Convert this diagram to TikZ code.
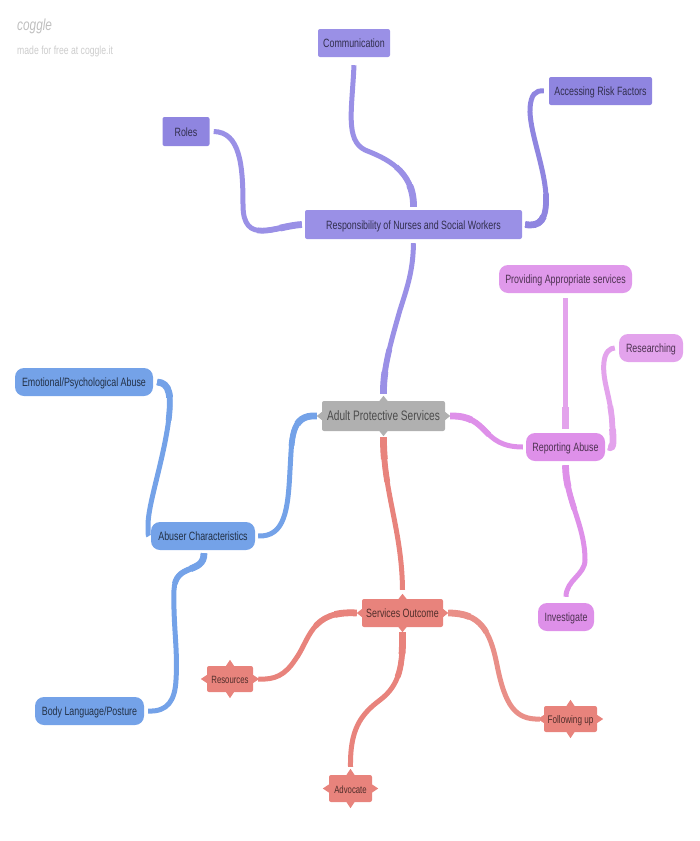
\documentclass[tikz,border=0pt]{standalone}
\usepackage{fontspec}
\setmainfont[FakeStretch=0.74]{Liberation Sans}
\definecolor{purpleA}{HTML}{9A90E6}
\definecolor{purpleB}{HTML}{8F85E0}
\definecolor{pinkA}{HTML}{DE90E9}
\definecolor{pinkB}{HTML}{E3A3EC}
\definecolor{blueA}{HTML}{74A2E8}
\definecolor{redA}{HTML}{E8837C}
\definecolor{redB}{HTML}{E98F88}
\definecolor{grayA}{HTML}{B0B0B0}
\tikzset{
    topic/.style={minimum height=28pt, inner sep=0pt, rounded corners=2pt, text height=11.6pt, text depth=2.6pt, font=\fontsize{12}{14}\selectfont},
    pill/.style={topic, rounded corners=9pt},
    purplenode/.style={topic, fill=#1, text=purpleB!35!black},
    pinknode/.style={pill, fill=pinkA, text=pinkA!35!black},
    bluenode/.style={pill, fill=blueA, text=blueA!30!black},
    rednode/.style={topic, fill=redA, text=redA!35!black},
    branch/.style={draw=#1, line width=5pt,
        preaction={draw=#1, line width=5.8pt, dash pattern=on 45pt off 3000pt},
        preaction={draw=#1, line width=6.8pt, dash pattern=on 22pt off 3000pt}},
}
\begin{document}
\begin{tikzpicture}[x=1pt, y=-1pt, line cap=butt]
    \useasboundingbox (0,0) rectangle (700,841);
    % logo
    \node[anchor=west, inner sep=0pt, text=black!25, font=\fontsize{16}{18}\itshape] (logo) at (17,26) {coggle};
    \node[anchor=west, inner sep=0pt, text=black!20, font=\fontsize{11.7}{14}\selectfont] (madefor) at (17,51) {made for free at coggle.it};
    % nodes
    \node[topic, fill=grayA, text=black!70, minimum width=123pt, minimum height=30pt, font=\fontsize{13.7}{16}\selectfont] (adult) at (383.5,416) {Adult Protective Services};
    \node[purplenode=purpleA, minimum width=217pt, minimum height=29pt] (resp) at (413.5,224.5) {Responsibility of Nurses and Social Workers};
    \node[purplenode=purpleA, minimum width=72pt] (comm) at (354,43) {Communication};
    \node[purplenode=purpleB, minimum width=103pt] (risk) at (600.5,91) {Accessing Risk Factors};
    \node[purplenode=purpleB, minimum width=47pt, minimum height=29pt] (roles) at (186,131.5) {Roles};
    \node[pinknode, minimum width=79pt] (report) at (565.5,447) {Reporting Abuse};
    \node[pinknode, fill=pinkB!50!pinkA, minimum width=133pt] (provide) at (565.5,279) {Providing Appropriate services};
    \node[pinknode, fill=pinkB, minimum width=64pt] (research) at (651,348) {Researching};
    \node[pinknode, minimum width=56pt] (investigate) at (566,617) {Investigate};
    \node[bluenode, minimum width=138pt] (emotional) at (84,382) {Emotional/Psychological Abuse};
    \node[bluenode, minimum width=104pt] (abuser) at (203,536) {Abuser Characteristics};
    \node[bluenode, minimum width=109pt] (body) at (89.5,711) {Body Language/Posture};
    \node[rednode, minimum width=81pt] (outcome) at (402.5,613) {Services Outcome};
    \node[rednode, minimum width=46pt, minimum height=26pt, font=\fontsize{10.5}{12}\selectfont] (resources) at (230,679) {Resources};
    \node[rednode, minimum width=43pt, minimum height=27pt, font=\fontsize{10.5}{12}\selectfont] (advocate) at (350.5,788.5) {Advocate};
    \node[rednode, minimum width=53pt, minimum height=26pt, font=\fontsize{11}{13}\selectfont] (following) at (570.5,719) {Following up};
    % spikes on the square nodes
    \foreach \n/\c/\w in {adult/grayA/5, outcome/redA/5, resources/redA/6, advocate/redA/6, following/redA/6} {
        \fill[\c] (\n.north) ++(-4,0) -- ++(4,-\w) -- ++(4,\w) -- cycle;
        \fill[\c] (\n.south) ++(-4,0) -- ++(4,\w) -- ++(4,-\w) -- cycle;
        \fill[\c] (\n.west) ++(0,-4) -- ++(-\w,4) -- ++(\w,4) -- cycle;
        \fill[\c] (\n.east) ++(0,-4) -- ++(\w,4) -- ++(-\w,4) -- cycle;
    }
    % purple branches
    \draw[branch=purpleA] ([yshift=7pt]adult.north) .. controls (383,370) and (390,345) .. (400,310) .. controls (408,285) and (413,270) .. ([yshift=-4pt]resp.south);
    \draw[branch=purpleA] ([yshift=3pt]resp.north) .. controls (414,170) and (385,158) .. (365,150) .. controls (345,140) and (352,110) .. ([yshift=-8pt]comm.south);
    \draw[branch=purpleB] ([xshift=3pt]resp.east) .. controls (540,227) and (547,220) .. (546,195) .. controls (544,165) and (529,130) .. (530,108) .. controls (531,95) and (535,90) .. ([xshift=-5pt]risk.west);
    \draw[branch=purpleA] ([xshift=-3pt]resp.west) .. controls (275,226) and (243,246) .. (243,205) .. controls (243,165) and (240,132) .. ([xshift=4pt]roles.east);
    % pink branches
    \draw[branch=pinkA] ([xshift=5pt]adult.east) .. controls (490,415) and (480,447) .. ([xshift=-3pt]report.west);
    \draw[branch=pinkB] ([yshift=4pt]report.north) -- ([yshift=-5pt]provide.south);
    \draw[branch=pinkB] ([xshift=3pt]report.east) .. controls (615,450) and (613,440) .. (612,420) .. controls (610,395) and (602,380) .. (604,362) .. controls (605,352) and (610,348) .. ([xshift=-4pt]research.west);
    \draw[branch=pinkA] ([yshift=-4pt]report.south) .. controls (566,500) and (585,525) .. (585,560) .. controls (585,575) and (566,580) .. ([yshift=6pt]investigate.north);
    % blue branches
    \draw[branch=blueA] ([xshift=-5pt]adult.west) .. controls (290,414) and (292,440) .. (290,470) .. controls (288,510) and (285,537) .. ([xshift=3pt]abuser.east);
    \draw[branch=blueA] ([xshift=4pt]emotional.east) .. controls (170,383) and (172,395) .. (168,425) .. controls (162,465) and (148,505) .. (148,525) .. controls (148,532) and (148,536) .. ([xshift=-2pt]abuser.west);
    \draw[branch=blueA] ([xshift=1pt, yshift=-3pt]abuser.south) .. controls (204,575) and (175,562) .. (174,590) .. controls (173,625) and (178,650) .. (176,680) .. controls (175,700) and (168,712) .. ([xshift=4pt]body.east);
    % red branches
    \draw[branch=redA] ([yshift=-6pt]adult.south) .. controls (383,490) and (402,530) .. ([yshift=9pt]outcome.north);
    \draw[branch=redA] ([xshift=-5pt]outcome.west) .. controls (310,610) and (310,640) .. (295,660) .. controls (285,675) and (275,680) .. ([xshift=5pt]resources.east);
    \draw[branch=redA] ([yshift=-5pt]outcome.south) .. controls (403,665) and (400,685) .. (380,700) .. controls (360,715) and (350,730) .. ([yshift=8pt]advocate.north);
    \draw[branch=redB] ([xshift=5pt]outcome.east) .. controls (480,613) and (490,630) .. (497,665) .. controls (505,705) and (515,720) .. ([xshift=-4pt]following.west);
\end{tikzpicture}
\end{document}
